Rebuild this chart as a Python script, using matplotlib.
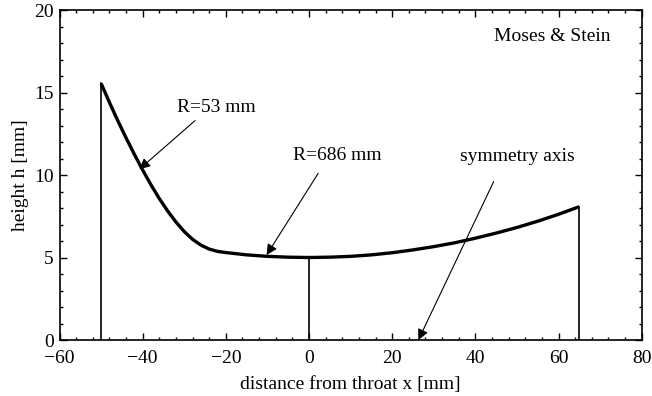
#!/usr/bin/env python3
import matplotlib
matplotlib.use("Agg")
import matplotlib.pyplot as plt
from matplotlib.ticker import MultipleLocator

plt.rcParams['font.family'] = ['Liberation Serif', 'DejaVu Serif']
plt.rcParams['font.size'] = 14

# nozzle contour
x_mm = [-50, -48, -46, -44, -42, -40, -38, -36, -34, -32, -30, -28, -26, -24, -22,
        -20, -15, -10, -5, 0, 5, 10, 15, 20, 25, 30, 35, 40, 45, 50, 55, 60, 65]
h_mm = [15.55, 14.40, 13.30, 12.25, 11.25, 10.30, 9.40, 8.57, 7.82, 7.15, 6.57, 6.10, 5.75, 5.51, 5.37,
        5.30, 5.16, 5.07, 5.02, 5.00, 5.02, 5.07, 5.16, 5.29, 5.46, 5.66, 5.89, 6.17, 6.48, 6.82, 7.20, 7.62, 8.08]

# vertical lines: inlet, throat, exit
vlines_x = [-50, 0, 65]
vlines_h = [15.55, 5.00, 8.08]

# annotations: text, text position, arrow tip
labels = ['R=53 mm', 'R=686 mm', 'symmetry axis']
label_xy = [(-22.3, 14.1), (6.8, 11.2), (50.2, 11.1)]
arrow_start = [(-27.4, 13.3), (2.2, 10.1), (44.4, 9.6)]
arrow_tip = [(-40.8, 10.35), (-10.2, 5.15), (26.3, 0.0)]

fig = plt.figure(figsize=(6.52, 3.96), dpi=100)
ax = fig.add_axes([0.0913, 0.1414, 0.8929, 0.8333])

ax.plot(x_mm, h_mm, color='black', lw=2.4, solid_capstyle='butt')
for xv, hv in zip(vlines_x, vlines_h):
    ax.plot([xv, xv], [0, hv], color='black', lw=1.2)

for txt, pos, st, tip in zip(labels, label_xy, arrow_start, arrow_tip):
    ax.text(pos[0], pos[1], txt, ha='center', va='center')
    ax.annotate('', xy=tip, xytext=st,
                arrowprops=dict(arrowstyle='-|>', color='black', lw=0.8,
                                mutation_scale=16, shrinkA=0, shrinkB=0))

ax.text(72.6, 18.4, 'Moses & Stein', ha='right', va='center')

ax.set_xlim(-60, 80)
ax.set_ylim(0, 20)
ax.xaxis.set_major_locator(MultipleLocator(20))
ax.xaxis.set_minor_locator(MultipleLocator(4))
ax.yaxis.set_major_locator(MultipleLocator(5))
ax.yaxis.set_minor_locator(MultipleLocator(1))
ax.tick_params(which='both', direction='in', top=True, right=True, width=1.0)
ax.tick_params(which='major', length=5, labelsize=14)
ax.tick_params(which='minor', length=2.5)
ax.tick_params(axis='x', which='major', pad=7)
ax.tick_params(axis='y', which='major', pad=4)
for s in ax.spines.values():
    s.set_linewidth(1.2)

ax.set_xlabel('distance from throat x [mm]', labelpad=7)
ax.set_ylabel('height h [mm]', labelpad=4)

plt.savefig("out.png", dpi=100)
